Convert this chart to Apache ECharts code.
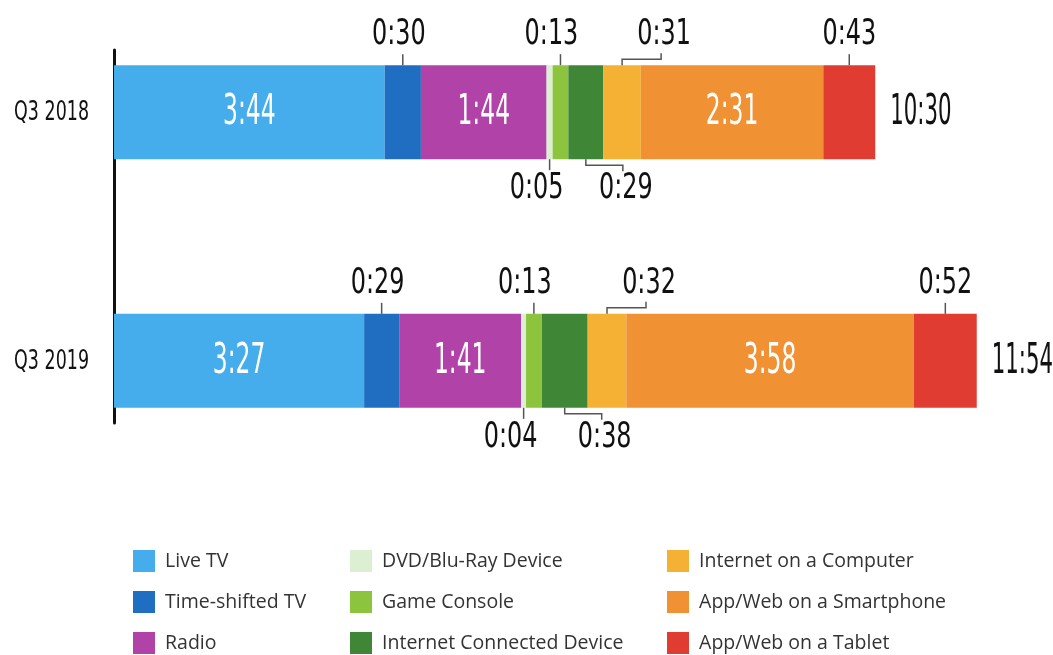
<!DOCTYPE html>
<html>
<head>
<meta charset="utf-8">
<script src="https://cdn.jsdelivr.net/npm/echarts@6/dist/echarts.min.js"></script>
<style>
html, body { margin: 0; padding: 0; background: #fff; }
#main { width: 1053px; height: 655px; }
</style>
</head>
<body>
<div id="main"></div>
<script>
// rows of the chart (blank middle row keeps the gap between the two bars)
var rows = ['Q3 2018', '', 'Q3 2019'];
var names = ['Live TV', 'Time-shifted TV', 'Radio', 'DVD/Blu-Ray Device', 'Game Console',
    'Internet Connected Device', 'Internet on a Computer', 'App/Web on a Smartphone', 'App/Web on a Tablet'];

// minutes per day: [Q3 2018, Q3 2019]
var liveTV = [224, 207];
var timeShiftedTV = [30, 29];
var radio = [104, 101];
var dvdBluRay = [5, 4];
var gameConsole = [13, 13];
var connectedDevice = [29, 38];
var computer = [31, 32];
var smartphone = [151, 238];
var tablet = [43, 52];

var values = [liveTV, timeShiftedTV, radio, dvdBluRay, gameConsole, connectedDevice, computer, smartphone, tablet];
var colors = ['#45adeb', '#1f6ec2', '#b042a8', '#dcefd2', '#8cc43e', '#3f8736', '#f4b133', '#f09234', '#e03c31'];

// where each segment's label goes
var place = ['in', 'up', 'in', 'down', 'up', 'down', 'up', 'in', 'up'];
var elbow = [0, 0, 0, 0, 0, 1, 1, 0, 0];
var labelDx = [0, -4, 0, -13, -9, 40, 42, 0, 0];

var FONT = "'Liberation Sans Narrow', 'DejaVu Sans Condensed', sans-serif";
var barW = 94;
var gridLeft = 114;

function fmt(m) {
    var mm = m % 60;
    return Math.floor(m / 60) + ':' + (mm < 10 ? '0' + mm : mm);
}

function condText(x, y, scaleX, text, size, fill, align) {
    return {
        type: 'text', x: x, y: y, scaleX: scaleX,
        style: {text: text, fontSize: size, fontFamily: FONT, fill: fill, align: align, verticalAlign: 'middle'}
    };
}

var rowIdx = [0, 2];
var series = [];
names.forEach(function (name, i) {
    series.push({
        type: 'bar',
        name: name,
        stack: 'total',
        barWidth: barW,
        itemStyle: {color: colors[i]},
        data: [values[i][0], '-', values[i][1]]
    });
});

// label items built from the same arrays: [start, end, row, segment]
// segment -1 = total at the bar end, -2 = row name
var labelData = [];
rowIdx.forEach(function (r, k) {
    var acc = 0;
    values.forEach(function (v, i) {
        labelData.push([acc, acc + v[k], r, i]);
        acc += v[k];
    });
    labelData.push([0, acc, r, -1]);
    labelData.push([0, 0, r, -2]);
});

function renderLabel(params, api) {
    var start = api.value(0), end = api.value(1), row = api.value(2), seg = api.value(3);
    var p0 = api.coord([start, row]);
    var p1 = api.coord([end, row]);
    var cy = p0[1];
    var top = cy - barW / 2, bot = cy + barW / 2;
    var cx = (p0[0] + p1[0]) / 2;
    if (seg == -2) {
        return condText(p0[0] - 25, cy + 1, 0.72, rows[row], 27, '#111', 'right');
    }
    if (seg == -1) {
        return condText(p1[0] + 15, cy + 1, 0.55, fmt(end), 43, '#111', 'left');
    }
    var txt = fmt(end - start);
    if (place[seg] == 'in') {
        return condText(cx, cy + 1, 0.62, txt, 42, '#fff', 'center');
    }
    var up = place[seg] == 'up';
    var s = up ? -1 : 1;
    var edge = up ? top : bot;
    var pts;
    if (elbow[seg]) {
        var ex = cx + labelDx[seg] - 3;
        pts = [[cx, edge], [cx, edge + s * 6], [ex, edge + s * 6], [ex, edge + s * 12]];
    } else {
        pts = [[cx, edge], [cx, edge + s * 11]];
    }
    return {
        type: 'group',
        children: [
            {type: 'polyline', shape: {points: pts}, style: {stroke: '#555', lineWidth: 1.5, fill: null}},
            condText(cx + labelDx[seg], edge + s * 30, 0.76, txt, 35, '#111', 'center')
        ]
    };
}

series.push({
    type: 'custom',
    name: 'labels',
    renderItem: renderLabel,
    encode: {x: [0, 1], y: 2},
    data: labelData,
    clip: false,
    silent: true,
    z: 5
});

function legendCol(left, items) {
    return {
        orient: 'vertical',
        left: left,
        top: 550,
        padding: 0,
        itemWidth: 22,
        itemHeight: 22,
        itemGap: 19,
        icon: 'rect',
        selectedMode: false,
        data: items,
        formatter: ' {name}',
        textStyle: {fontFamily: "'Open Sans', sans-serif", fontSize: 19.5, lineHeight: 22, color: '#333'}
    };
}

var option = {
    animation: false,
    backgroundColor: '#fff',
    grid: {left: gridLeft, right: 69, top: 50, bottom: 232, outerBoundsMode: 'none'},
    xAxis: {type: 'value', min: 0, max: 720, show: false},
    yAxis: {
        type: 'category',
        data: rows,
        inverse: true,
        axisLine: {show: true, lineStyle: {color: '#111', width: 3}},
        axisTick: {show: false},
        axisLabel: {show: false}
    },
    legend: [
        legendCol(133, names.slice(0, 3)),
        legendCol(350, names.slice(3, 6)),
        legendCol(667, names.slice(6, 9))
    ],
    series: series
};

var myChart = echarts.init(document.getElementById('main'));
myChart.setOption(option);
</script>
</body>
</html>
